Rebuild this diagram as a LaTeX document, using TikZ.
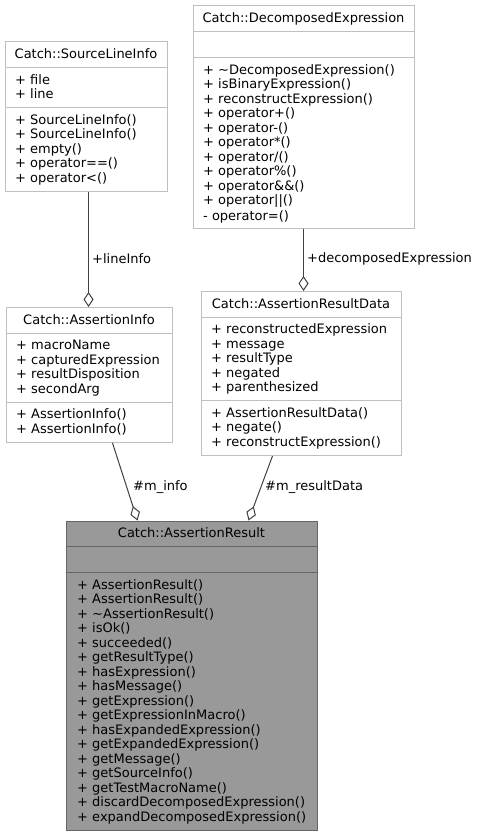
\documentclass[tikz,border=0pt]{standalone}
\usepackage{fontspec}
\setmainfont{DejaVu Sans}
\usetikzlibrary{arrows.meta}
\definecolor{boxline}{HTML}{BFBFBF}
\definecolor{edgeline}{HTML}{404040}
\definecolor{hlfill}{HTML}{999999}
\definecolor{hlline}{HTML}{666666}
% one member line: fixed 14.5pt slot, baseline 11.5pt below its top
\newcommand\ml{\rule[-3pt]{0pt}{14.5pt}}
\begin{document}
\begin{tikzpicture}[x=1pt,y=-1pt,
  font=\fontsize{13}{14.5}\selectfont,
  classbox/.style={draw=boxline,fill=white,line width=1pt,inner sep=0pt,anchor=north west},
  focusbox/.style={classbox,draw=hlline,fill=hlfill},
  sepline/.style={draw=boxline,line width=1pt},
  focussep/.style={draw=hlline,line width=1pt},
  cname/.style={anchor=north,inner sep=0pt},
  members/.style={anchor=north west,inner sep=0pt,align=left},
  role/.style={anchor=west,inner sep=0pt},
  agg/.style={draw=edgeline,line width=1pt,{Diamond[open,length=15pt,width=10pt]}-}]
\useasboundingbox (0,0) rectangle (477,837);

% Catch::SourceLineInfo
\node[classbox,minimum width=162pt,minimum height=149.5pt] (sli) at (5,41.5) {};
\draw[sepline] (5,67.5) -- (167,67.5);
\draw[sepline] (5,107.5) -- (167,107.5);
\node[cname] (sliT) at (86,47.25) {\ml Catch::SourceLineInfo};
\node[members] (sliA) at (15,72.5) {\ml + file\\\ml + line};
\node[members] (sliM) at (15,112.5) {\ml + SourceLineInfo()\\\ml + SourceLineInfo()\\\ml + empty()\\\ml + operator==()\\\ml + operator<()};

% Catch::DecomposedExpression
\node[classbox,minimum width=221pt,minimum height=222.5pt] (de) at (193,5.5) {};
\draw[sepline] (193,31.5) -- (414,31.5);
\draw[sepline] (193,57.5) -- (414,57.5);
\node[cname] (deT) at (303.5,11.25) {\ml Catch::DecomposedExpression};
\node[members] (deM) at (203,62.5) {\ml + \textasciitilde DecomposedExpression()\\\ml + isBinaryExpression()\\\ml + reconstructExpression()\\\ml + operator+()\\\ml + operator-()\\\ml + operator*()\\\ml + operator/()\\\ml + operator\%()\\\ml + operator\&\&()\\\ml + operator||()\\\ml - operator=()};

% Catch::AssertionResultData
\node[classbox,minimum width=200pt,minimum height=164pt] (ard) at (201,291) {};
\draw[sepline] (201,317) -- (401,317);
\draw[sepline] (201,400.5) -- (401,400.5);
\node[cname] (ardT) at (301,296.75) {\ml Catch::AssertionResultData};
\node[members] (ardA) at (211,322) {\ml + reconstructedExpression\\\ml + message\\\ml + resultType\\\ml + negated\\\ml + parenthesized};
\node[members] (ardM) at (211,405.5) {\ml + AssertionResultData()\\\ml + negate()\\\ml + reconstructExpression()};

% Catch::AssertionInfo
\node[classbox,minimum width=166pt,minimum height=135pt] (ai) at (6,307) {};
\draw[sepline] (6,333) -- (172,333);
\draw[sepline] (6,402) -- (172,402);
\node[cname] (aiT) at (89,312.75) {\ml Catch::AssertionInfo};
\node[members] (aiA) at (16,338) {\ml + macroName\\\ml + capturedExpression\\\ml + resultDisposition\\\ml + secondArg};
\node[members] (aiM) at (16,407) {\ml + AssertionInfo()\\\ml + AssertionInfo()};

% Catch::AssertionResult
\node[focusbox,minimum width=251pt,minimum height=309.5pt] (ar) at (66,520.5) {};
\draw[focussep] (66,546.5) -- (317,546.5);
\draw[focussep] (66,572.5) -- (317,572.5);
\node[cname] (arT) at (191.5,526.25) {\ml Catch::AssertionResult};
\node[members] (arM) at (77,577.5) {\ml + AssertionResult()\\\ml + AssertionResult()\\\ml + \textasciitilde AssertionResult()\\\ml + isOk()\\\ml + succeeded()\\\ml + getResultType()\\\ml + hasExpression()\\\ml + hasMessage()\\\ml + getExpression()\\\ml + getExpressionInMacro()\\\ml + hasExpandedExpression()\\\ml + getExpandedExpression()\\\ml + getMessage()\\\ml + getSourceInfo()\\\ml + getTestMacroName()\\\ml + discardDecomposedExpression()\\\ml + expandDecomposedExpression()};

% aggregation connectors
\draw[agg] ([xshift=-1pt]ai.north) -- ([xshift=-1pt]ai.north |- sli.south);
\draw[agg] ([xshift=2pt]ard.north) -- ([xshift=2pt]ard.north |- de.south);
\draw[agg] ([xshift=-54.5pt]ar.north) -- ([xshift=23pt]ai.south);
\draw[agg] ([xshift=56.5pt]ar.north) -- ([xshift=-29pt]ard.south);

% role labels
\node[role] (l1) at (92,259) {+lineInfo};
\node[role] (l2) at (307,259) {+decomposedExpression};
\node[role] (l3) at (133,487) {\#m\_info};
\node[role] (l4) at (265,487) {\#m\_resultData};
\end{tikzpicture}
\end{document}
